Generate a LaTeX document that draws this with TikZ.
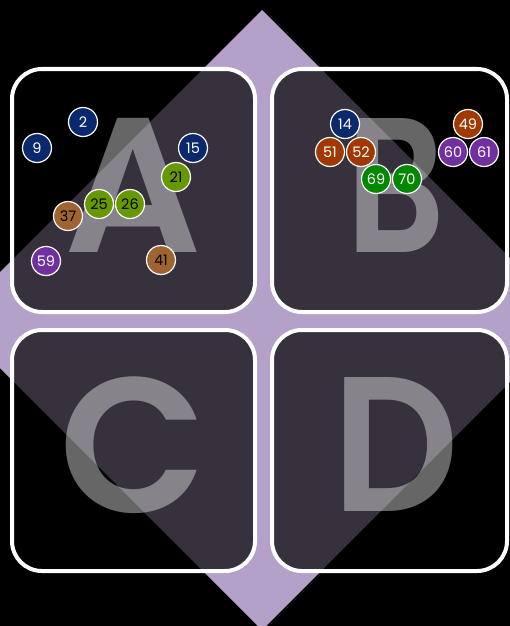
\documentclass[tikz,border=0pt]{standalone}
\usepackage{fontspec}
\setmainfont{Poppins}
\newfontfamily\letterfont{Poppins SemiBold}
\usetikzlibrary{positioning}
\definecolor{lilac}{RGB}{179,161,202}
\definecolor{navyb}{RGB}{10,40,110}
\definecolor{oliveb}{RGB}{102,153,0}
\definecolor{brownb}{RGB}{160,100,48}
\definecolor{purpleb}{RGB}{112,48,160}
\definecolor{rustb}{RGB}{160,56,0}
\definecolor{greenb}{RGB}{0,136,0}

\begin{document}
\begin{tikzpicture}[
  x=1pt, y=-1pt,
  every node/.style={font=\fontsize{14.5}{14.5}\selectfont},
  panel/.style={
    draw=white, line width=4pt, rounded corners=30pt,
    fill=black, fill opacity=0.69,
    minimum height=243pt, inner sep=0pt,
  },
  letter/.style={
    text=white, text opacity=0.4, inner sep=0pt,
    font=\fontsize{192}{192}\selectfont\letterfont,
  },
  ball/.style={
    circle, draw=white, line width=1.2pt,
    minimum size=29pt, inner sep=0pt, text=white,
  },
  navyball/.style={ball, fill=navyb},
  oliveball/.style={ball, fill=oliveb, text=black},
  brownball/.style={ball, fill=brownb, text=black},
  purpleball/.style={ball, fill=purpleb},
  rustball/.style={ball, fill=rustb},
  greenball/.style={ball, fill=greenb},
]
  \useasboundingbox (0,0) rectangle (510,626);
  \clip (0,0) rectangle (510,626);
  \fill[black] (0,0) rectangle (510,626);

  % lilac diamond behind the panels
  \fill[lilac] (262,10) -- (572,320) -- (262,630) -- (-48,320) -- cycle;

  % the four panels
  \node[panel, minimum width=243pt] (pA) at (133.5,190.5) {};
  \node[panel, minimum width=235pt] (pB) at (389.5,190.5) {};
  \node[panel, minimum width=243pt, minimum height=241pt] (pC) at (133.5,450.5) {};
  \node[panel, minimum width=235pt, minimum height=241pt] (pD) at (389.5,450.5) {};

  \node[letter] (lA) at (133,185) {A};
  \node[letter] (lB) at (396,185) {\scalebox{0.8}[1]{B}};
  \node[letter] (lC) at (133,445) {C};
  \node[letter] (lD) at (396,444) {\scalebox{0.92}[1]{D}};

  % panel A
  \node[navyball]   (n2)  at (83,122)  {2};
  \node[navyball]   (n9)  at (37,148)  {9};
  \node[navyball]   (n15) at (193,148) {15};
  \node[oliveball]  (n21) at (176,177) {21};
  \node[oliveball]  (n25) at (99,204)  {25};
  \node[oliveball]  (n26) at (130,204) {26};
  \node[brownball]  (n37) at (68,216)  {37};
  \node[purpleball] (n59) at (46,261)  {59};
  \node[brownball]  (n41) at (161,260) {41};

  % panel B
  \node[navyball]   (n14) at (345,124) {14};
  \node[rustball]   (n51) at (330,152) {51};
  \node[rustball]   (n52) at (361,152) {52};
  \node[greenball]  (n69) at (376,179) {69};
  \node[greenball]  (n70) at (407,179) {70};
  \node[rustball]   (n49) at (468,124) {49};
  \node[purpleball] (n60) at (453,152) {60};
  \node[purpleball] (n61) at (484,152) {61};
\end{tikzpicture}
\end{document}
